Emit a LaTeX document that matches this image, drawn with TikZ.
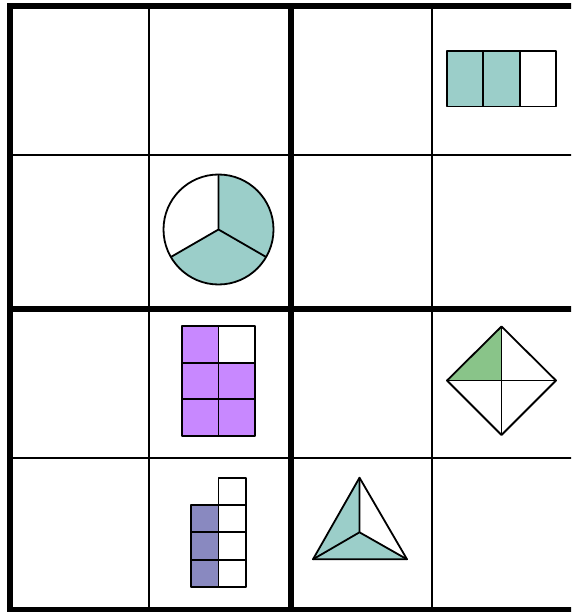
\documentclass[tikz,border=0pt]{standalone}
\begin{document}
\begin{tikzpicture}[x=1pt,y=-1pt,
  thin line/.style={line width=2pt},
  thick line/.style={line width=6pt},
  shape line/.style={line width=1.8pt,line join=round},
]
\definecolor{teal}{RGB}{155,206,201}
\definecolor{lilac}{RGB}{200,136,255}
\definecolor{slate}{RGB}{137,137,192}
\definecolor{leaf}{RGB}{137,196,137}
\useasboundingbox (0,0) rectangle (571,612);
\clip (0,0) rectangle (571,612);
\fill[white] (0,0) rectangle (571,612);
% thin grid lines
\foreach \x in {149,432} \draw[thin line] (\x,6.5) -- (\x,612);
\foreach \y in {155,458} \draw[thin line] (10,\y) -- (580,\y);
% thick grid lines
\foreach \x in {10,291} \draw[thick line] (\x,3.5) -- (\x,615);
\foreach \y in {6.5,308.5,609.5} \draw[thick line] (7,\y) -- (580,\y);
% top-right: bar of thirds
\fill[teal] (447,51) rectangle (520,106.5);
\draw[shape line] (447,51) rectangle (556,106.5);
\draw[shape line] (483.3,51) -- (483.3,106.5) (519.7,51) -- (519.7,106.5);
% circle in thirds (y axis points down, so angles are mirrored)
\coordinate (cc) at (218.5,229.5);
\fill[teal] (cc) -- ++(-90:55) arc[start angle=-90,end angle=150,radius=55] -- cycle;
\draw[shape line] (cc) circle[radius=55];
\draw[shape line] (cc) -- ++(-90:55) (cc) -- ++(30:55) (cc) -- ++(150:55);
% purple 2x3 grid
\fill[lilac] (182,326) rectangle (218.5,436);
\fill[lilac] (218.5,362.7) rectangle (255,436);
\draw[shape line] (182,326) rectangle (255,436);
\draw[shape line] (218.5,326) -- (218.5,436) (182,362.7) -- (255,362.7) (182,399.3) -- (255,399.3);
% diamond
\coordinate (dc) at (501.5,380.5);
\fill[leaf] (447,380.5) -- (501.5,326.5) -- (501.5,380.5) -- cycle;
\draw[shape line] (447,380.5) -- (501.5,326.5) -- (556,380.5) -- (501.5,435) -- cycle;
\draw[shape line] (447,380.5) -- (556,380.5) (501.5,326.5) -- (501.5,435);
% stack of squares
\fill[slate] (191,505) rectangle (218.5,587);
\draw[shape line] (218.5,477.7) rectangle (246,587);
\draw[shape line] (191,505) rectangle (218.5,587);
\draw[shape line] (191,532.3) -- (246,532.3) (191,559.7) -- (246,559.7) (218.5,505) -- (246,505);
% triangle
\coordinate (ta) at (359.5,477.7);
\coordinate (tl) at (313,559.3);
\coordinate (tr) at (407,559.3);
\coordinate (tc) at (359.5,532.3);
\fill[teal] (ta) -- (tl) -- (tr) -- (tc) -- cycle;
\draw[shape line] (ta) -- (tl) -- (tr) -- cycle;
\draw[shape line] (tc) -- (ta) (tc) -- (tl) (tc) -- (tr);
\end{tikzpicture}
\end{document}
